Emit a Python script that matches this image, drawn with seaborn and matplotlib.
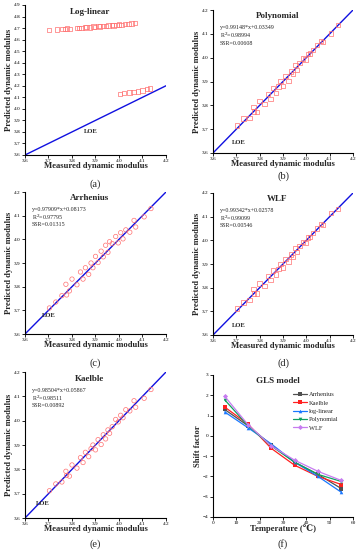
import numpy as np
import pandas as pd
import matplotlib
matplotlib.use("Agg")
import matplotlib.pyplot as plt
import seaborn as sns

sns.set_style("white")
plt.rcParams['font.family'] = ['Liberation Serif', 'DejaVu Serif']

# ---------------- data ----------------
measured = [3.704, 3.731, 3.757, 3.774, 3.777, 3.789, 3.800, 3.821, 3.836, 3.847,
            3.857, 3.871, 3.881, 3.889, 3.900, 3.911, 3.924, 3.933, 3.943, 3.953,
            3.960, 3.971, 3.986, 3.997, 4.007, 4.017, 4.029, 4.046, 4.064, 4.071,
            4.107, 4.136]
pred_poly = [3.716, 3.744, 3.746, 3.792, 3.774, 3.772, 3.819, 3.805, 3.848, 3.826,
             3.872, 3.851, 3.879, 3.903, 3.882, 3.924, 3.903, 3.942, 3.932, 3.970,
             3.949, 3.977, 3.997, 3.993, 4.016, 4.018, 4.032, 4.053, 4.071, 4.067,
             4.102, 4.137]
pred_arr = [3.710, 3.735, 3.762, 3.810, 3.765, 3.782, 3.832, 3.808, 3.862, 3.832,
            3.880, 3.852, 3.900, 3.880, 3.928, 3.902, 3.950, 3.926, 3.975, 3.945,
            3.990, 3.982, 4.012, 3.985, 4.028, 4.002, 4.040, 4.030, 4.080, 4.052,
            4.095, 4.130]
pred_wlf = [3.712, 3.738, 3.748, 3.795, 3.776, 3.775, 3.818, 3.808, 3.849, 3.832,
            3.872, 3.855, 3.878, 3.900, 3.885, 3.922, 3.910, 3.940, 3.930, 3.968,
            3.950, 3.975, 3.992, 3.990, 4.012, 4.015, 4.030, 4.050, 4.068, 4.064,
            4.115, 4.133]
pred_kae = [3.712, 3.740, 3.748, 3.792, 3.775, 3.772, 3.818, 3.805, 3.848, 3.828,
            3.870, 3.852, 3.885, 3.900, 3.880, 3.922, 3.902, 3.942, 3.925, 3.962,
            3.948, 3.975, 4.005, 3.995, 4.022, 4.012, 4.045, 4.040, 4.082, 4.055,
            4.092, 4.128]

ll_measured = [3.703, 3.735, 3.760, 3.770, 3.780, 3.791, 3.820, 3.831, 3.841, 3.855,
               3.862, 3.877, 3.891, 3.898, 3.912, 3.919, 3.933, 3.945, 3.955, 3.969,
               3.976, 3.990, 4.001, 4.011, 4.026, 4.040, 4.054, 4.068,
               4.004, 4.020, 4.045, 4.062, 4.080, 4.100, 4.118, 4.132]
ll_pred = [4.683, 4.688, 4.690, 4.694, 4.696, 4.694, 4.700, 4.703, 4.699, 4.705,
           4.708, 4.706, 4.712, 4.710, 4.716, 4.714, 4.720, 4.718, 4.722, 4.725,
           4.722, 4.728, 4.730, 4.728, 4.733, 4.736, 4.740, 4.745,
           4.129, 4.135, 4.140, 4.148, 4.152, 4.160, 4.170, 4.178]

loe = [3.6, 4.2]

stats = {
    "Polynomial": ["y=0.99148*x+0.03349", "R$^2$=0.98994", "SSR=0.00608"],
    "Arrhenius": ["y=0.97909*x+0.08173", "R$^2$=0.97795", "SSR=0.01315"],
    "WLF": ["y=0.99342*x+0.02578", "R$^2$=0.99099", "SSR=0.00546"],
    "Kaelble": ["y=0.98504*x+0.05867", "R$^2$=0.98511", "SSR=0.00892"],
}

temps = [5, 15, 25, 35, 45, 55]
shift_models = ["Arrhenius", "Kaelble", "log-linear", "Polynomial", "WLF"]
shift_arr = [1.30, 0.50, -0.45, -1.30, -1.90, -2.60]
shift_kae = [1.42, 0.58, -0.62, -1.45, -2.00, -2.40]
shift_ll = [1.18, 0.40, -0.40, -1.30, -2.00, -2.78]
shift_poly = [1.78, 0.50, -0.50, -1.30, -1.90, -2.25]
shift_wlf = [1.95, 0.55, -0.50, -1.20, -1.75, -2.20]

# ---------------- figure ----------------
W, H = 360, 550
fig = plt.figure(figsize=(W / 100, H / 100), dpi=100)

def px_axes(left, top, right, bottom):
    return fig.add_axes([left / W, 1 - bottom / H, (right - left) / W, (bottom - top) / H])

TICK_FS = 3.8
LAB_FS = 6.2

def style_axes(ax):
    sns.despine(ax=ax)
    for s in ["left", "bottom"]:
        ax.spines[s].set_linewidth(0.8)
        ax.spines[s].set_color("black")
    ax.tick_params(axis="both", labelsize=TICK_FS, length=2, width=0.6,
                   direction="out", pad=1, colors="black", bottom=True, left=True)

def scatter_panel(ax, x, y, title, marker, ymax, stat_lines, loe_pos):
    df = pd.DataFrame({"Measured": x, "Predicted": y})
    sns.lineplot(x=loe, y=loe, ax=ax, color="#1010e0", linewidth=1.0)
    sns.scatterplot(data=df, x="Measured", y="Predicted", ax=ax, marker=marker,
                    s=10, facecolor="none", edgecolor="#ff7070", linewidth=0.5, zorder=3)
    ax.set_xlim(3.6, 4.2)
    ax.set_ylim(3.6, ymax)
    ax.set_xticks(np.arange(3.6, 4.201, 0.1))
    ax.set_yticks(np.arange(3.6, ymax + 0.001, 0.1))
    ax.xaxis.set_major_formatter(matplotlib.ticker.FormatStrFormatter("%.1f"))
    ax.yaxis.set_major_formatter(matplotlib.ticker.FormatStrFormatter("%.1f"))
    ax.set_xlabel("Measured dynamic modulus", fontsize=LAB_FS, fontweight="bold", labelpad=-0.5)
    ax.set_ylabel("Predicted dynamic modulus", fontsize=LAB_FS, fontweight="bold", labelpad=1)
    style_axes(ax)
    ax.text(0.46, 0.955, title, transform=ax.transAxes, ha="center", va="center",
            fontsize=6.5, fontweight="bold")
    if stat_lines:
        for i, t in enumerate(stat_lines):
            ax.text(0.05, 0.875 - i * 0.053, t, transform=ax.transAxes, ha="left",
                    va="center", fontsize=4.3)
    ax.text(loe_pos[0], loe_pos[1], "LOE", ha="left", va="center", fontsize=4.8,
            fontweight="bold")

axa = px_axes(25, 5, 166, 155)
scatter_panel(axa, ll_measured, ll_pred, "Log-linear", "s", 4.9, None, (3.85, 3.80))

axb = px_axes(213, 10, 353, 153)
scatter_panel(axb, measured, pred_poly, "Polynomial", "s", 4.2, stats["Polynomial"], (3.68, 3.642))

axc = px_axes(25, 192, 166, 334)
scatter_panel(axc, measured, pred_arr, "Arrhenius", "o", 4.2, stats["Arrhenius"], (3.67, 3.677))

axd = px_axes(213, 193, 353, 335)
scatter_panel(axd, measured, pred_wlf, "WLF", "s", 4.2, stats["WLF"], (3.68, 3.64))

axe = px_axes(25, 372, 166, 518)
scatter_panel(axe, measured, pred_kae, "Kaelble", "o", 4.2, stats["Kaelble"], (3.645, 3.661))

# panel f
axf = px_axes(213, 375, 353, 517)
series = [shift_arr, shift_kae, shift_ll, shift_poly, shift_wlf]
rows = []
for m, vals in zip(shift_models, series):
    for t, v in zip(temps, vals):
        rows.append({"Temperature": t, "Shift": v, "Model": m})
sdf = pd.DataFrame(rows)
palette = {"Arrhenius": "#505050", "Kaelble": "#ff2020", "log-linear": "#1a78ff",
           "Polynomial": "#10a060", "WLF": "#c77cf0"}
markers = {"Arrhenius": "s", "Kaelble": "s", "log-linear": "^", "Polynomial": "v", "WLF": "D"}
sns.lineplot(data=sdf, x="Temperature", y="Shift", hue="Model", style="Model",
             palette=palette, markers=markers, dashes=False, ax=axf,
             linewidth=0.9, markersize=2.6, markeredgewidth=0)
axf.set_xlim(0, 60)
axf.set_ylim(-4, 3)
axf.set_xticks(range(0, 61, 10))
axf.set_yticks(range(-4, 4))
axf.set_xlabel("Temperature (℃)", fontsize=LAB_FS, fontweight="bold", labelpad=-0.5)
axf.set_ylabel("Shift factor", fontsize=LAB_FS, fontweight="bold", labelpad=1)
style_axes(axf)
axf.text(0.46, 0.96, "GLS model", transform=axf.transAxes, ha="center", va="center",
         fontsize=6.5, fontweight="bold")
leg = axf.legend(loc="upper left", bbox_to_anchor=(0.55, 0.9), frameon=False,
                 fontsize=4.6, handlelength=2.2, labelspacing=0.45, borderaxespad=0,
                 handletextpad=0.4)

# panel labels
for lab, x, y in [("(a)", 95, 184), ("(b)", 283, 176), ("(c)", 95, 363),
                  ("(d)", 283, 363), ("(e)", 95, 544), ("(f)", 283, 544)]:
    fig.text(x / W, 1 - y / H, lab, ha="center", va="center", fontsize=7.5)

fig.savefig("out.png", dpi=100)
